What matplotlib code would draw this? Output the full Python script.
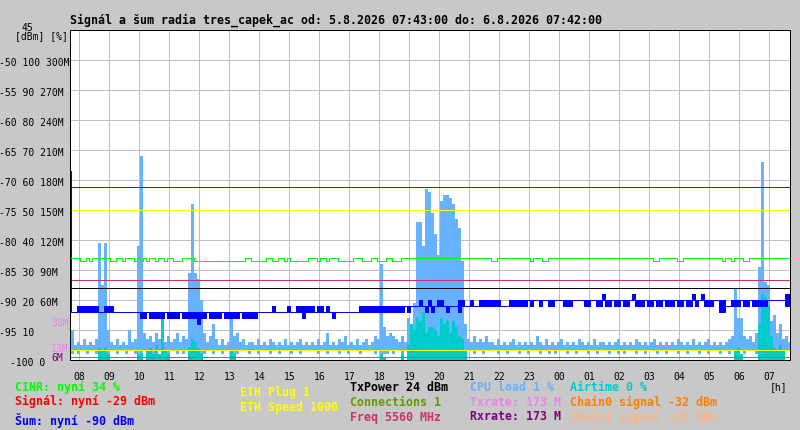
import numpy as np
import matplotlib
import matplotlib.pyplot as plt
from matplotlib.transforms import blended_transform_factory, offset_copy

matplotlib.rcParams.update({'lines.antialiased': False,
                            'patch.antialiased': False,
                            'font.family': ['DejaVu Sans Mono']})

# samples every 6 minutes from 5.8.2026 07:43
t_start = 7 + 43 / 60
step_h = 0.1

hour_ticks = list(range(8, 32))
hour_labels = ['%02d' % (h % 24) for h in hour_ticks]

axis_dbm = [-50, -55, -60, -65, -70, -75, -80, -85, -90, -95, -100]
axis_pct = [100, 90, 80, 70, 60, 50, 40, 30, 20, 10, 0]
axis_mbit = ['300M', '270M', '240M', '210M', '180M', '150M', '120M', '90M', '60M', '', '']

# CPU load [%], max and min inside each sample
cpu_hi = [
    10, 5, 6, 5, 7, 5, 6, 5, 7, 39, 25, 39, 10, 6, 5, 7, 5, 6, 5, 10,
    6, 7, 38, 68, 9, 7, 8, 6, 9, 7, 10, 6, 8, 6, 7, 9, 6, 8, 7, 29,
    52, 29, 27, 20, 9, 6, 8, 12, 7, 5, 7, 5, 6, 14, 8, 9, 6, 7, 5, 6,
    6, 5, 7, 5, 6, 5, 7, 6, 5, 6, 5, 7, 5, 6, 5, 6, 7, 5, 6, 5,
    6, 5, 7, 5, 6, 9, 5, 6, 5, 7, 6, 8, 5, 6, 5, 7, 5, 6, 7, 5,
    6, 8, 7, 32, 11, 8, 9, 8, 7, 6, 8, 6, 14, 8, 19, 46, 46, 38, 57, 56,
    49, 42, 35, 53, 55, 55, 54, 52, 47, 44, 33, 12, 7, 6, 8, 6, 7, 6, 8, 6,
    6, 5, 7, 5, 6, 5, 6, 7, 5, 6, 5, 6, 5, 6, 5, 8, 6, 5, 7, 5,
    6, 5, 6, 7, 5, 6, 5, 6, 5, 7, 6, 5, 6, 5, 7, 5, 6, 6, 5, 6,
    5, 6, 7, 5, 6, 5, 6, 5, 7, 6, 5, 6, 5, 6, 7, 5, 6, 5, 6, 5,
    6, 5, 7, 6, 5, 6, 5, 7, 5, 6, 5, 6, 7, 5, 6, 5, 6, 5, 6, 7,
    8, 24, 14, 14, 8, 7, 8, 6, 9, 31, 66, 26, 25, 13, 15, 9, 12, 7, 8, 6,
]
cpu_lo = [
    2, 3, 2, 3, 3, 2, 3, 3, 2, 2, 3, 1, 2, 3, 3, 2, 3, 3, 2, 3,
    3, 2, 2, 2, 3, 2, 3, 2, 3, 3, 2, 3, 2, 3, 3, 2, 3, 2, 3, 2,
    2, 2, 1, 2, 2, 3, 3, 2, 3, 3, 2, 3, 3, 2, 2, 2, 3, 3, 3, 2,
    3, 3, 2, 3, 3, 3, 2, 3, 3, 2, 3, 3, 3, 2, 3, 3, 2, 3, 3, 3,
    3, 3, 2, 3, 3, 2, 3, 3, 3, 2, 3, 3, 2, 3, 3, 3, 2, 3, 3, 3,
    3, 2, 3, 2, 2, 2, 3, 2, 3, 3, 2, 3, 2, 2, 2, 3, 3, 2, 3, 2,
    3, 2, 4, 3, 2, 3, 2, 3, 4, 2, 3, 2, 3, 3, 2, 3, 3, 2, 3, 3,
    3, 3, 2, 3, 3, 2, 3, 3, 3, 2, 3, 3, 2, 3, 3, 3, 2, 3, 3, 2,
    3, 2, 3, 3, 3, 2, 3, 3, 2, 3, 3, 3, 2, 3, 3, 2, 3, 3, 3, 2,
    3, 3, 2, 3, 2, 3, 3, 3, 2, 3, 3, 2, 3, 3, 3, 2, 3, 3, 2, 3,
    3, 3, 2, 3, 3, 2, 3, 3, 3, 2, 3, 3, 2, 3, 3, 3, 2, 3, 3, 2,
    3, 2, 2, 3, 2, 3, 3, 3, 2, 2, 2, 3, 2, 2, 3, 3, 2, 3, 3, 3,
]

# Airtime [%]
airtime = [
    0, 0, 0, 0, 0, 0, 0, 0, 0, 4, 3, 4, 2, 0, 0, 0, 0, 0, 0, 0,
    0, 0, 2, 2, 0, 3, 4, 2, 5, 2, 14, 3, 2, 0, 0, 0, 0, 0, 0, 4,
    7, 6, 4, 2, 0, 0, 0, 0, 0, 0, 0, 0, 0, 3, 2, 0, 0, 0, 0, 0,
    0, 0, 0, 0, 0, 0, 0, 0, 0, 0, 0, 0, 0, 0, 0, 0, 0, 0, 0, 0,
    0, 0, 0, 0, 0, 0, 0, 0, 0, 0, 0, 0, 0, 0, 0, 0, 0, 0, 0, 0,
    0, 0, 0, 2, 1, 0, 0, 0, 0, 0, 2, 0, 5, 12, 10, 14, 13, 16, 9, 11,
    11, 10, 8, 14, 12, 13, 9, 13, 11, 8, 7, 3, 0, 0, 0, 0, 0, 0, 0, 0,
    0, 0, 0, 0, 0, 0, 0, 0, 0, 0, 0, 0, 0, 0, 0, 0, 0, 0, 0, 0,
    0, 0, 0, 0, 0, 0, 0, 0, 0, 0, 0, 0, 0, 0, 0, 0, 0, 0, 0, 0,
    0, 0, 0, 0, 0, 0, 0, 0, 0, 0, 0, 0, 0, 0, 0, 0, 0, 0, 0, 0,
    0, 0, 0, 0, 0, 0, 0, 0, 0, 0, 0, 0, 0, 0, 0, 0, 0, 0, 0, 0,
    0, 3, 4, 2, 0, 0, 0, 0, 0, 12, 22, 21, 18, 8, 4, 3, 5, 3, 0, 0,
]

# noise [dBm], max and min inside each sample
noise_start = -68.5
noise_hi = [
    -92, -92, -91, -91, -91, -91, -91, -91, -91, -92, -92, -91, -91, -91, -92, -92, -92, -92, -92, -92,
    -92, -92, -92, -92, -92, -92, -92, -92, -92, -92, -92, -92, -92, -92, -92, -92, -92, -92, -92, -92,
    -92, -92, -92, -92, -92, -92, -92, -92, -92, -92, -92, -92, -92, -92, -92, -92, -92, -92, -92, -92,
    -92, -92, -92, -92, -92, -92, -92, -91, -92, -92, -92, -92, -91, -92, -92, -91, -91, -91, -91, -91,
    -91, -92, -91, -91, -92, -91, -92, -92, -92, -92, -92, -92, -92, -92, -92, -92, -91, -91, -91, -91,
    -91, -91, -91, -91, -91, -91, -91, -91, -91, -91, -91, -91, -91, -91, -91, -91, -90, -91, -91, -90,
    -91, -91, -90, -90, -91, -91, -91, -91, -91, -90, -90, -91, -91, -90, -91, -91, -90, -90, -90, -90,
    -90, -90, -90, -91, -91, -91, -90, -90, -90, -90, -90, -90, -90, -90, -90, -90, -90, -90, -90, -90,
    -90, -90, -90, -90, -90, -90, -90, -90, -90, -90, -90, -90, -90, -90, -90, -90, -90, -89, -90, -90,
    -90, -90, -90, -90, -90, -90, -90, -89, -90, -90, -90, -90, -90, -90, -90, -90, -90, -90, -90, -90,
    -90, -90, -90, -90, -90, -90, -90, -89, -90, -90, -89, -90, -90, -90, -90, -90, -90, -90, -91, -91,
    -90, -90, -90, -90, -90, -90, -90, -90, -90, -90, -90, -90, -90, -90, -90, -90, -90, -90, -89, -89,
]
noise_lo = [
    -92, -92, -92, -92, -92, -92, -92, -92, -92, -92, -92, -92, -92, -92, -92, -92, -92, -92, -92, -92,
    -92, -92, -92, -93, -93, -92, -93, -93, -93, -93, -93, -92, -93, -93, -93, -93, -92, -93, -93, -93,
    -93, -93, -94, -93, -93, -92, -93, -93, -93, -93, -92, -93, -93, -93, -93, -93, -92, -93, -93, -93,
    -93, -93, -92, -92, -92, -92, -92, -92, -92, -92, -92, -92, -92, -92, -92, -92, -92, -93, -92, -92,
    -92, -92, -92, -92, -92, -92, -92, -93, -92, -92, -92, -92, -92, -92, -92, -92, -92, -92, -92, -92,
    -92, -92, -92, -92, -92, -92, -92, -92, -92, -92, -92, -91, -92, -91, -91, -91, -91, -91, -92, -91,
    -92, -91, -91, -91, -91, -92, -91, -91, -91, -92, -91, -91, -91, -91, -91, -91, -91, -91, -91, -91,
    -91, -91, -91, -91, -91, -91, -91, -91, -91, -91, -91, -91, -90, -91, -90, -90, -91, -90, -90, -91,
    -91, -90, -90, -90, -91, -91, -91, -90, -90, -90, -90, -91, -91, -90, -90, -91, -91, -90, -91, -91,
    -90, -91, -91, -90, -91, -91, -90, -90, -91, -91, -91, -90, -91, -91, -90, -91, -91, -90, -91, -91,
    -91, -90, -91, -91, -90, -91, -91, -90, -91, -90, -90, -91, -91, -91, -90, -90, -92, -92, -91, -91,
    -91, -91, -91, -90, -91, -91, -90, -91, -91, -91, -91, -91, -90, -90, -90, -90, -90, -90, -91, -91,
]

# CINR [%]
cinr = [
    34, 34, 34, 33, 33, 34, 33, 34, 34, 34, 34, 34, 34, 33, 33, 34, 34, 33, 34, 34,
    34, 33, 34, 33, 34, 33, 34, 34, 33, 34, 34, 33, 34, 34, 33, 33, 33, 34, 34, 34,
    34, 33, 33, 33, 33, 33, 33, 33, 33, 33, 33, 33, 33, 33, 33, 33, 33, 33, 34, 34,
    33, 33, 33, 33, 33, 34, 34, 33, 33, 34, 34, 33, 34, 33, 33, 33, 33, 33, 33, 34,
    34, 34, 33, 34, 34, 33, 34, 34, 34, 33, 33, 33, 33, 33, 34, 34, 34, 33, 33, 33,
    34, 34, 33, 33, 33, 34, 34, 33, 33, 33, 34, 34, 34, 34, 34, 34, 34, 34, 34, 34,
    34, 34, 34, 34, 34, 34, 34, 34, 34, 34, 34, 34, 34, 34, 34, 34, 34, 34, 34, 34,
    33, 33, 34, 34, 34, 34, 34, 34, 34, 34, 34, 34, 34, 33, 34, 34, 34, 33, 33, 34,
    34, 34, 34, 34, 34, 34, 34, 34, 34, 34, 34, 34, 34, 34, 34, 34, 34, 34, 34, 34,
    34, 34, 34, 34, 34, 34, 34, 34, 34, 34, 34, 34, 34, 34, 33, 33, 34, 34, 34, 34,
    34, 34, 33, 33, 34, 34, 34, 34, 34, 34, 34, 34, 34, 34, 34, 34, 34, 33, 34, 34,
    33, 34, 34, 34, 33, 33, 34, 34, 34, 34, 34, 34, 34, 34, 34, 34, 34, 34, 34, 34,
]

# constant series (level on the % / M scale where they are drawn)
rxrate_m = 173
txrate_m = 173
eth_speed_pct = 50
freq_pct = 26.7
txpower_pct = 24
eth_plug_pct = 3.3
connections_pct = 1
chain1_start = -33

col_cinr, col_signal, col_noise = '#00ff00', '#ff0000', '#0000ff'
col_eth, col_txp, col_conn, col_freq = '#ffff00', '#000000', '#669900', '#cc3366'
col_cpu, col_tx, col_rx = '#66b2ff', '#ee82ee', '#800080'
col_air, col_ch0, col_ch1 = '#00cccc', '#ff8000', '#ffb380'

LW = 0.55


def pct(v):
    return -100 + np.asarray(v, dtype=float) * 0.5


def mbit(v):
    return -100 + np.asarray(v, dtype=float) / 6


W, H = 800, 430
fig = plt.figure(figsize=(W / 100, H / 100), dpi=100, facecolor='#c8c8c8')
ax = fig.add_axes([70 / W, 1 - 360 / H, 720 / W, 330 / H])
ax.set_facecolor('white')

x0 = t_start - 0.8 / 30
ax.set_xlim(x0, x0 + 24)
ax.set_ylim(-100, -45)
ax.set_xticks(hour_ticks)
ax.set_yticks(axis_dbm[:-1])
ax.tick_params(length=0, labelbottom=False, labelleft=False)
ax.grid(True, color='#c0c0c0', lw=LW)
ax.set_axisbelow(True)
for s in ax.spines.values():
    s.set_color('black')
    s.set_linewidth(LW)

edges = t_start + step_h * np.arange(len(cpu_hi) + 1)

ax.stairs(pct(cpu_hi), edges, baseline=pct(cpu_lo), fill=True, color=col_cpu,
          lw=0, zorder=2)
ax.stairs(pct(airtime), edges, baseline=-100, fill=True, color=col_air, lw=0, zorder=2.1)

ax.hlines([mbit(txrate_m), mbit(rxrate_m), pct(eth_speed_pct), pct(freq_pct),
           pct(txpower_pct), pct(eth_plug_pct), pct(connections_pct)],
          edges[0], edges[-1],
          colors=[col_tx, col_rx, col_eth, col_freq, col_txp, col_eth, col_conn],
          lw=LW, zorder=3)

ax.stairs(noise_hi, edges, baseline=noise_lo, fill=True, color=col_noise, lw=0, zorder=4)
ax.stairs(noise_hi, edges, baseline=None, color=col_noise, lw=LW, zorder=4)
ax.stairs(noise_lo, edges, baseline=None, color=col_noise, lw=LW, zorder=4)
ax.vlines(t_start, noise_hi[0], noise_start, color=col_noise, lw=LW, zorder=4)

ax.stairs(pct(cinr), edges, baseline=None, color=col_cinr, lw=LW, zorder=5)

ax.vlines(t_start, -45, chain1_start, color=col_ch1, lw=LW, clip_on=False, zorder=1)


def fx(px):
    return px / W


def fy(py):
    return 1 - py / H


# left axis labels
lbl_tr = offset_copy(blended_transform_factory(fig.transFigure, ax.transData),
                     fig=fig, x=0, y=-5.5, units='dots')
for d, p, m in zip(axis_dbm, axis_pct, axis_mbit):
    s = ('%d %d %s' % (d, p, m)).strip()
    ax.text(fx(10 if d == -100 else -1), d, s, transform=lbl_tr,
            fontsize=7, va='baseline', ha='left')
fig.text(fx(22), fy(31), '45', fontsize=7, va='baseline')
fig.text(fx(15), fy(39.5), '[dBm] [%]', fontsize=7, va='baseline')
fig.text(fx(51), fy(326), '39M', fontsize=7, va='baseline', color=col_tx)
fig.text(fx(51), fy(351.5), '13M', fontsize=7, va='baseline', color=col_tx)
fig.text(fx(51), fy(361), '6M', fontsize=7, va='baseline', color=col_rx)

# hour labels
hr_tr = blended_transform_factory(ax.transData, fig.transFigure)
for h, lab in zip(hour_ticks, hour_labels):
    ax.text(h, fy(380), lab, transform=hr_tr, fontsize=7, ha='center', va='baseline')
fig.text(fx(770), fy(390), '[h]', fontsize=7, va='baseline')

fig.text(fx(69.5), fy(23.3),
         'Signál a šum radia tres_capek_ac od: 5.8.2026 07:43:00 do: 6.8.2026 07:42:00',
         fontsize=8.4, fontweight='bold', va='baseline')

legend_cols = [
    (15, [('CINR: nyní 34 %', col_cinr, 390.7),
          ('Signál: nyní -29 dBm', col_signal, 405),
          ('Šum: nyní -90 dBm', col_noise, 425.5)]),
    (240, [('ETH Plug 1', col_eth, 396),
           ('ETH Speed 1000', col_eth, 410.5)]),
    (350, [('TxPower 24 dBm', col_txp, 390.7),
           ('Connections 1', col_conn, 405.7),
           ('Freq 5560 MHz', col_freq, 420.5)]),
    (470, [('CPU load 1 %', col_cpu, 390.7),
           ('Txrate: 173 M', col_tx, 405.7),
           ('Rxrate: 173 M', col_rx, 420.5)]),
    (570, [('Airtime 0 %', col_air, 390.7),
           ('Chain0 signal -32 dBm', col_ch0, 405.7),
           ('Chain1 signal -33 dBm', col_ch1, 420.5)]),
]
for x, items in legend_cols:
    for txt, c, y in items:
        fig.text(fx(x), fy(y), txt, color=c, fontsize=8.4, fontweight='bold', va='baseline')

fig.savefig('out.png', dpi=100, facecolor=fig.get_facecolor())
